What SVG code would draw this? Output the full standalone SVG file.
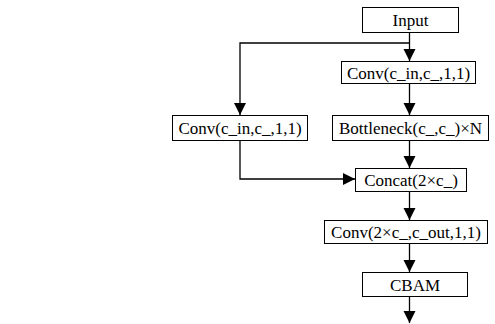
<svg xmlns="http://www.w3.org/2000/svg" width="495" height="324" viewBox="0 0 495 324">
<style>
.box{fill:#fff;stroke:#000;stroke-width:1}
.t{font-family:'Liberation Serif','Times New Roman',serif;font-size:17px;fill:#000;text-anchor:middle}
.c{fill:none;stroke:#000;stroke-width:1.3}
</style>
<defs>
<marker id="ah" markerUnits="userSpaceOnUse" markerWidth="12" markerHeight="14" refX="12" refY="6" orient="auto">
<path d="M0,0 L12,6 L0,12 Z" fill="#000"/>
</marker>
</defs>
<rect width="495" height="324" fill="#fff"/>
<g id="connectors">
<path class="c" d="M409.5,32 V61" marker-end="url(#ah)"/>
<path class="c" d="M409.5,43 H240 V115" marker-end="url(#ah)"/>
<path class="c" d="M409.5,83 V115" marker-end="url(#ah)"/>
<path class="c" d="M409.5,140 V168" marker-end="url(#ah)"/>
<path class="c" d="M240,140 V179 H355" marker-end="url(#ah)"/>
<path class="c" d="M409.5,191 V220" marker-end="url(#ah)"/>
<path class="c" d="M409.5,243 V272" marker-end="url(#ah)"/>
<path class="c" d="M409.5,296 V323" marker-end="url(#ah)"/>
</g>
<g id="input"><rect class="box" x="362.5" y="7.5" width="96" height="25"/><text class="t" x="410.5" y="26">Input</text></g>
<g id="conv1"><rect class="box" x="341.5" y="61.5" width="134" height="22"/><text class="t" x="408.5" y="78.5">Conv(c_in,c_,1,1)</text></g>
<g id="conv_left"><rect class="box" x="172.5" y="115.5" width="135" height="25"/><text class="t" x="240" y="134">Conv(c_in,c_,1,1)</text></g>
<g id="bottleneck"><rect class="box" x="332.5" y="115.5" width="156" height="25"/><text class="t" x="410.5" y="134">Bottleneck(c_,c_)×N</text></g>
<g id="concat"><rect class="box" x="355.5" y="168.5" width="111" height="23"/><text class="t" x="411" y="186">Concat(2×c_)</text></g>
<g id="conv2"><rect class="box" x="324.5" y="220.5" width="163" height="23"/><text class="t" x="406" y="238">Conv(2×c_,c_out,1,1)</text></g>
<g id="cbam"><rect class="box" x="362.5" y="272.5" width="105" height="24"/><text class="t" x="415" y="290.5">CBAM</text></g>
</svg>
